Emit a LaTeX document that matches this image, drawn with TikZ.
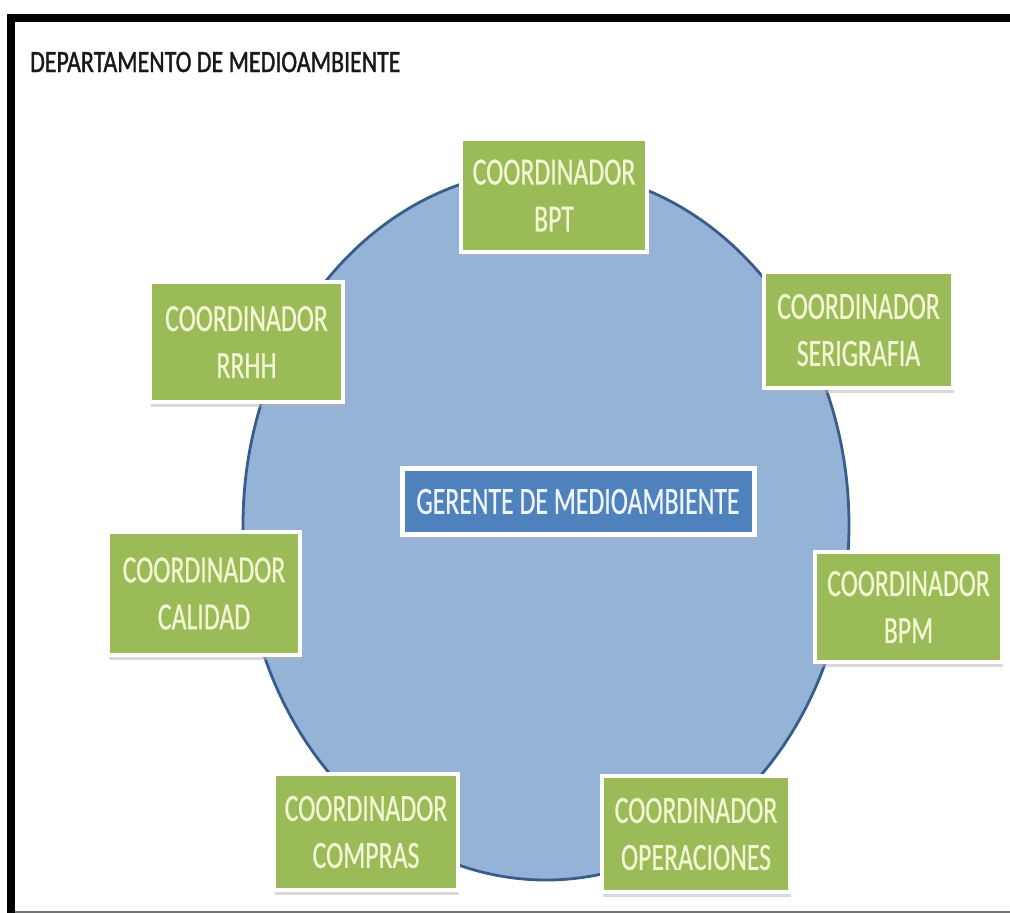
\documentclass[tikz,border=0pt]{standalone}
\usepackage{fontspec}
\setmainfont{Carlito}
\newfontfamily\condbox[FakeStretch=0.67,FakeBold=0.6]{Carlito}
\newfontfamily\condtitle[FakeStretch=0.77,FakeBold=1.2]{Carlito}
\usetikzlibrary{shadows}
\definecolor{circfill}{HTML}{95B3D7}
\definecolor{circline}{HTML}{385D8A}
\definecolor{boxgreen}{HTML}{9BBB59}
\definecolor{boxtext}{HTML}{F2F6D2}
\definecolor{mgrblue}{HTML}{4F81BD}
\definecolor{mgrtext}{HTML}{EEF4FB}
\tikzset{
  coordbox/.style={draw=white, line width=3.5pt, fill=boxgreen, text=boxtext,
    inner sep=0pt, align=center,
    font=\condbox\fontsize{38.5}{47}\selectfont,
    drop shadow={shadow xshift=1pt, shadow yshift=-5pt, fill=black!30, opacity=0.5}},
  mgrbox/.style={draw=white, line width=5pt, fill=mgrblue, text=mgrtext,
    inner sep=0pt, minimum width=352pt, minimum height=66pt,
    font=\condbox\fontsize{38.5}{46}\selectfont,
    drop shadow={shadow xshift=1pt, shadow yshift=-4pt, fill=black!30, opacity=0.5}},
}
\begin{document}
\begin{tikzpicture}[x=1pt,y=-1pt]
\useasboundingbox (0,0) rectangle (1010,913);
\fill[white] (0,0) rectangle (1010,913);
% frame
\fill[black] (7,14) rectangle (1010,22);
\fill[black] (7,14) rectangle (15,913);
\fill[black!55] (15,911) rectangle (1010,913);
% title
\node[anchor=base west, inner sep=0pt, text=black!90,
      font=\condtitle\fontsize{31}{31}\selectfont] (title) at (30,72) {DEPARTAMENTO DE MEDIOAMBIENTE};
% big ellipse
\draw[fill=circfill, draw=circline, line width=2.8pt] (546,525) ellipse [x radius=303, y radius=355];
% manager
\node[mgrbox] (mgr) at (578,501.5) {GERENTE DE MEDIOAMBIENTE};
% coordinators
\node[coordbox, minimum width=186pt, minimum height=113pt] (bpt) at (554,195.5) {COORDINADOR\\BPT};
\node[coordbox, minimum width=189pt, minimum height=116pt] (seri) at (858.5,330) {COORDINADOR\\SERIGRAFIA};
\node[coordbox, minimum width=193pt, minimum height=120pt] (rrhh) at (246.5,342) {COORDINADOR\\RRHH};
\node[coordbox, minimum width=192pt, minimum height=123pt] (cal) at (204,593.5) {COORDINADOR\\CALIDAD};
\node[coordbox, minimum width=187pt, minimum height=110pt] (bpm) at (908.5,607) {COORDINADOR\\BPM};
\node[coordbox, minimum width=184pt, minimum height=116pt] (comp) at (366,832) {COORDINADOR\\COMPRAS};
\node[coordbox, minimum width=188pt, minimum height=116pt] (oper) at (696,834) {COORDINADOR\\OPERACIONES};
\end{tikzpicture}
\end{document}
